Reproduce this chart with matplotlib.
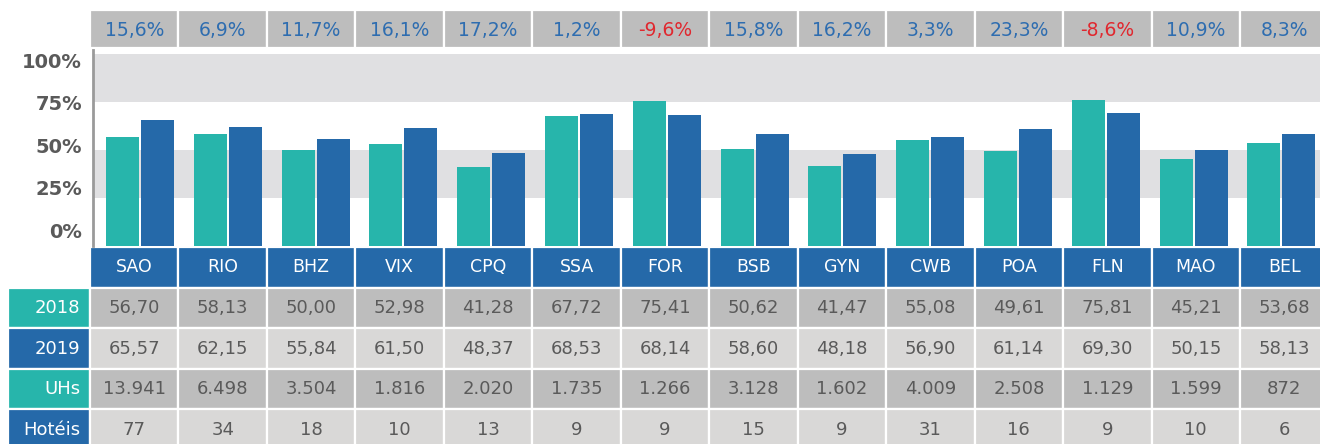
import numpy as np
import matplotlib
matplotlib.use("Agg")
import matplotlib.pyplot as plt
from matplotlib.patches import Rectangle

# dados
cidades = ['SAO', 'RIO', 'BHZ', 'VIX', 'CPQ', 'SSA', 'FOR', 'BSB', 'GYN', 'CWB', 'POA', 'FLN', 'MAO', 'BEL']
ocup_2018 = [56.70, 58.13, 50.00, 52.98, 41.28, 67.72, 75.41, 50.62, 41.47, 55.08, 49.61, 75.81, 45.21, 53.68]
ocup_2019 = [65.57, 62.15, 55.84, 61.50, 48.37, 68.53, 68.14, 58.60, 48.18, 56.90, 61.14, 69.30, 50.15, 58.13]
variacao = [15.6, 6.9, 11.7, 16.1, 17.2, 1.2, -9.6, 15.8, 16.2, 3.3, 23.3, -8.6, 10.9, 8.3]
uhs = [13941, 6498, 3504, 1816, 2020, 1735, 1266, 3128, 1602, 4009, 2508, 1129, 1599, 872]
hoteis = [77, 34, 18, 10, 13, 9, 9, 15, 9, 31, 16, 9, 10, 6]
y_ticks = [0, 25, 50, 75, 100]

TEAL = '#27b5ab'
BLUE = '#2569a9'
GRAY_D = '#bdbdbd'
GRAY_L = '#d9d8d7'
BAND = '#e0e0e2'
TXT = '#5a5a5a'
POS = '#2e6db0'
NEG = '#e0282f'

plt.rcParams['font.family'] = ['DejaVu Sans']

W, H = 1320, 444
fig = plt.figure(figsize=(W / 100, H / 100), dpi=100)

# eixo em pixels para a tabela e a linha de variação
tab = fig.add_axes([0, 0, 1, 1])
tab.set_xlim(0, W)
tab.set_ylim(H, 0)
tab.axis('off')

col_x0 = 90
col_w = 1150 / 13


def pt(v, casas=2):
    return f"{v:.{casas}f}".replace('.', ',')


def milhar(v):
    return f"{v:,}".replace(',', '.')


def cell(x, y, w, h, fc):
    tab.add_patch(Rectangle((x, y), w, h, facecolor=fc, edgecolor='white', linewidth=1.6))


# linha de variação (topo)
for i, v in enumerate(variacao):
    x = col_x0 + i * col_w
    cell(x, 10, col_w, 38, GRAY_D)
    tab.text(x + col_w / 2, 30, pt(v, 1) + '%', ha='center', va='center',
             fontsize=13.5, color=NEG if v < 0 else POS)

# cabeçalho e linhas da tabela
row_top = 247
row_h = 40.6
linhas = [
    ('2018', TEAL, GRAY_D, [pt(v) for v in ocup_2018]),
    ('2019', BLUE, GRAY_L, [pt(v) for v in ocup_2019]),
    ('UHs', TEAL, GRAY_D, [milhar(v) for v in uhs]),
    ('Hotéis', BLUE, GRAY_L, [str(v) for v in hoteis]),
]
for i, c in enumerate(cidades):
    x = col_x0 + i * col_w
    cell(x, row_top, col_w, row_h, BLUE)
    tab.text(x + col_w / 2, row_top + row_h / 2, c, ha='center', va='center',
             fontsize=12.5, color='white')

for r, (nome, cor_lab, cor_cel, vals) in enumerate(linhas):
    y = row_top + (r + 1) * row_h
    cell(8, y, col_x0 - 8, row_h, cor_lab)
    tab.text(80, y + row_h / 2, nome, ha='right', va='center', fontsize=13, color='white')
    for i, s in enumerate(vals):
        x = col_x0 + i * col_w
        cell(x, y, col_w, row_h, cor_cel)
        tab.text(x + col_w / 2, y + row_h / 2, s, ha='center', va='center',
                 fontsize=13, color=TXT)

# gráfico de barras
ax_l, ax_r = 93, 1320
y0_px, ytop_px = 246, 50.2
ax = fig.add_axes([ax_l / W, (H - y0_px) / H, (ax_r - ax_l) / W, (y0_px - ytop_px) / H])
ax.set_facecolor('none')
unit = 87.8
xoff = (140 - ax_l) / unit - 0.5
ax.set_xlim(-xoff, (ax_r - ax_l) / unit - xoff)
ax.set_ylim(0, 102)

for lo, hi in [(25, 50), (75, 100)]:
    ax.axhspan(lo, hi, color=BAND, lw=0, zorder=0)

x = np.arange(len(cidades)) + 0.5
bw = 0.375
gap = 0.012
ax.bar(x - bw / 2 - gap, ocup_2018, bw, color=TEAL, zorder=2)
ax.bar(x + bw / 2 + gap, ocup_2019, bw, color=BLUE, zorder=2)

for s in ['top', 'right', 'bottom']:
    ax.spines[s].set_visible(False)
ax.spines['left'].set_color('#9a9a9a')
ax.spines['left'].set_linewidth(2)
ax.set_xticks([])
# no original os rótulos ficam um pouco comprimidos em relação às faixas
ax.set_yticks(np.linspace(8.3, 96.6, len(y_ticks)))
ax.set_yticklabels([f"{t}%" for t in y_ticks], fontsize=14, fontweight='bold', color=TXT)
ax.tick_params(axis='y', length=0, pad=8)

fig.savefig('out.png', dpi=100)
